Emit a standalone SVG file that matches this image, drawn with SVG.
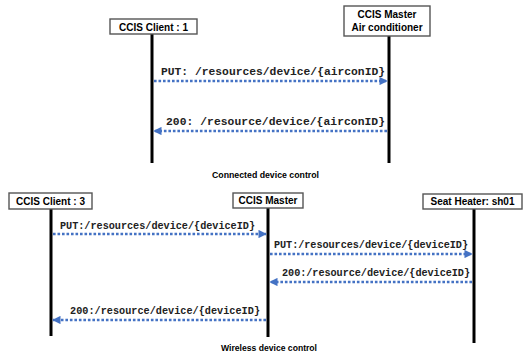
<svg xmlns="http://www.w3.org/2000/svg" width="526" height="355" viewBox="0 0 526 355">
<style>
.box{fill:#fff;stroke:#555;stroke-width:1.4}
.life{stroke:#000;stroke-width:3}
.msg{stroke:#4472C4;stroke-width:2.6;stroke-dasharray:2.6,1.9;fill:none}
.lbl{font-family:"Liberation Sans",Arial,sans-serif;font-weight:bold;font-size:10px;fill:#000;text-anchor:middle}
.m1{font-family:"Liberation Mono","Courier New",monospace;font-weight:bold;font-size:11.3px;fill:#222}
.m2{font-family:"Liberation Mono","Courier New",monospace;font-weight:bold;font-size:10.2px;fill:#222}
.cap{font-family:"Liberation Sans",Arial,sans-serif;font-weight:bold;font-size:8.6px;fill:#000}
</style>
<defs>
<marker id="ah" viewBox="0 0 10 10" refX="9" refY="5" markerWidth="3.6" markerHeight="3.2" orient="auto" markerUnits="strokeWidth">
<path d="M0,0 L10,5 L0,10 z" fill="#4472C4"/>
</marker>
</defs>
<rect width="526" height="355" fill="#fff"/>

<g id="top-client">
<line class="life" x1="152" y1="34" x2="152" y2="163"/>
<rect class="box" x="110" y="19" width="87" height="15"/>
<text class="lbl" x="153.5" y="30.5">CCIS Client : 1</text>
</g>
<g id="top-master">
<line class="life" x1="389" y1="36" x2="389" y2="163"/>
<rect class="box" x="344" y="6" width="86" height="30"/>
<text class="lbl" x="387" y="17.5">CCIS Master</text>
<text class="lbl" x="387" y="30.5">Air conditioner</text>
</g>

<g id="bot-client">
<line class="life" x1="51" y1="209" x2="51" y2="336"/>
<rect class="box" x="9" y="193" width="83" height="16"/>
<text class="lbl" x="50.5" y="204.5">CCIS Client : 3</text>
</g>
<g id="bot-master">
<line class="life" x1="268" y1="208" x2="268" y2="337"/>
<rect class="box" x="233" y="193" width="70" height="15"/>
<text class="lbl" x="268" y="204">CCIS Master</text>
</g>
<g id="bot-heater">
<line class="life" x1="474" y1="209" x2="474" y2="343"/>
<rect class="box" x="423" y="194" width="99" height="15"/>
<text class="lbl" x="472.5" y="205">Seat Heater: sh01</text>
</g>

<g id="connectors">
<line class="msg" x1="154" y1="81" x2="387" y2="81" marker-end="url(#ah)"/>
<line class="msg" x1="387" y1="131" x2="154" y2="131" marker-end="url(#ah)"/>
<line class="msg" x1="53" y1="234" x2="266" y2="234" marker-end="url(#ah)"/>
<line class="msg" x1="270" y1="254" x2="472" y2="254" marker-end="url(#ah)"/>
<line class="msg" x1="472" y1="282" x2="270" y2="282" marker-end="url(#ah)"/>
<line class="msg" x1="266" y1="320" x2="53" y2="320" marker-end="url(#ah)"/>
</g>

<g id="labels">
<text class="m1" x="161" y="75" textLength="224">PUT: /resources/device/{airconID}</text>
<text class="m1" x="166" y="125" textLength="219">200: /resource/device/{airconID}</text>
<text class="m2" x="60" y="229" textLength="195">PUT:/resources/device/{deviceID}</text>
<text class="m2" x="274" y="248" textLength="194">PUT:/resources/device/{deviceID}</text>
<text class="m2" x="282" y="276" textLength="188">200:/resource/device/{deviceID}</text>
<text class="m2" x="70" y="314" textLength="190">200:/resource/device/{deviceID}</text>
<text class="cap" x="212" y="178" textLength="107" lengthAdjust="spacingAndGlyphs">Connected device control</text>
<text class="cap" x="221" y="351" textLength="96" lengthAdjust="spacingAndGlyphs">Wireless device control</text>
</g>
</svg>
